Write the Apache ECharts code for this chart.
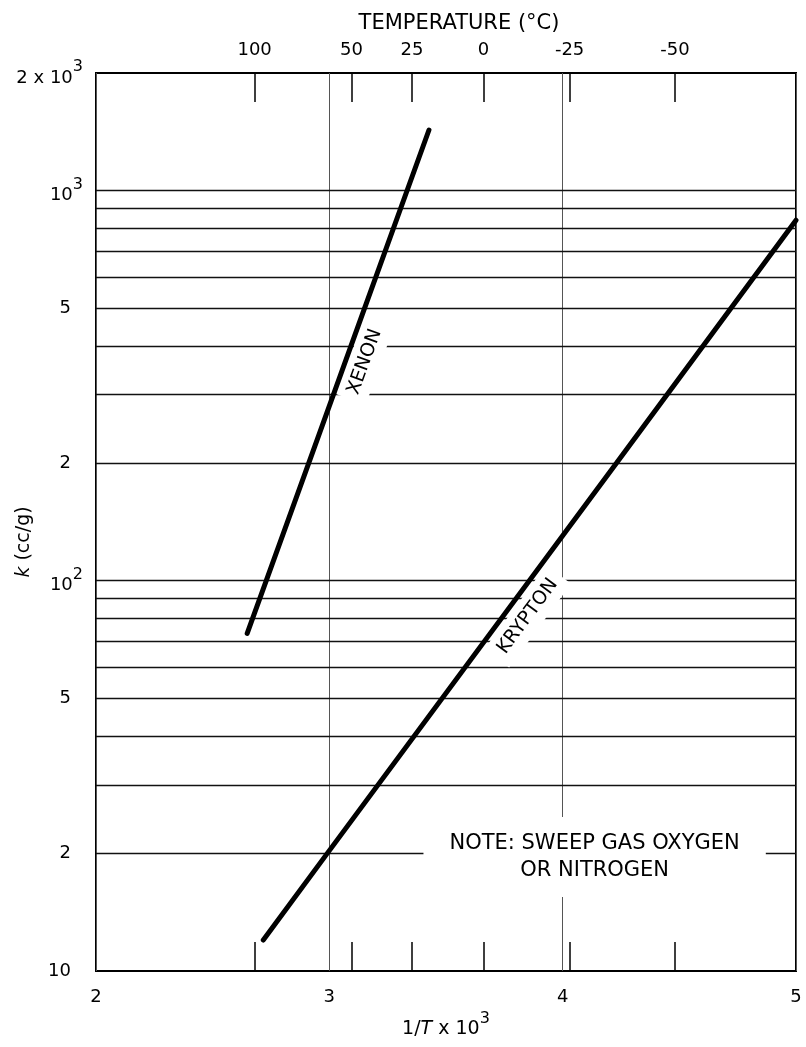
<!DOCTYPE html>
<html>
<head>
<meta charset="utf-8">
<script src="https://cdn.jsdelivr.net/npm/echarts@6/dist/echarts.min.js"></script>
<style>
  html, body { margin: 0; padding: 0; background: #fff; }
  #chart { width: 806px; height: 1047px; }
</style>
</head>
<body>
<div id="chart"></div>
<script>
// Adsorption coefficient k (cc/g) of xenon and krypton against 1/T x 10^3
const xenonInvT = [2.648, 2.914, 3.155, 3.427];
const xenonK = [73.3, 202, 507, 1429];
const kryptonInvT = [2.717, 2.988, 4.230, 5.0];
const kryptonK = [12.0, 19.9, 200, 839];

// Axis ticks and labels
const invTTicks = [2, 3, 4, 5];
const tempC = [100, 50, 25, 0, -25, -50];
const tempLabels = ['100', '50', '25', '0', '-25', '-50'];
const kGridValues = [20, 30, 40, 50, 60, 70, 80, 90, 100, 200, 300, 400, 500, 600, 700, 800, 900, 1000];
const kLabelValues = [10, 20, 50, 100, 200, 500, 1000, 2000];
const kLabelTexts = ['{n|10}', '{n|2}', '{n|5}', '{b|10}{s|2}', '{n|2}', '{n|5}', '{b|10}{s|3}', '{b|2 x 10}{s|3}'];

// Annotation anchors, in data units
const xenonNoteAt = [3.152, 364];
const kryptonNoteAt = [3.850, 81];
const sweepNoteAt = [4.137, 19.6];
const sweepNoteText = 'NOTE: SWEEP GAS OXYGEN\nOR NITROGEN';

const FONT = '"DejaVu Sans", "Liberation Sans", sans-serif';
const tempPos = tempC.map(t => 1000 / (t + 273.15));

function nearestLabel(values, texts, v, useLog) {
  let best = 0, bd = Infinity;
  values.forEach((x, i) => {
    const d = useLog ? Math.abs(Math.log10(x) - Math.log10(v)) : Math.abs(x - v);
    if (d < bd) { bd = d; best = i; }
  });
  return texts[best];
}

const chart = echarts.init(document.getElementById('chart'), null, { renderer: 'canvas' });

const pairs = (xs, ys) => xs.map((x, i) => [x, ys[i]]);

chart.setOption({
  animation: false,
  backgroundColor: '#fff',
  textStyle: { fontFamily: FONT, color: '#000' },
  grid: {
    left: 96, right: 10, top: 73, bottom: 76,
    containLabel: false, outerBoundsMode: 'none',
    show: true, borderColor: '#000', borderWidth: 2, backgroundColor: 'transparent'
  },
  xAxis: [
    {
      type: 'value', position: 'bottom', min: 2, max: 5, interval: 1,
      name: '{n|1/}{i|T}{n| x 10}{s|3}', nameLocation: 'middle', nameGap: 40, nameMoveOverlap: false,
      nameTextStyle: {
        rich: {
          n: { fontSize: 19, fontFamily: FONT, color: '#000', lineHeight: 28, verticalAlign: 'bottom' },
          i: { fontSize: 19, fontFamily: FONT, fontStyle: 'italic', color: '#000', lineHeight: 28, verticalAlign: 'bottom' },
          s: { fontSize: 16, fontFamily: FONT, color: '#000', lineHeight: 14, verticalAlign: 'top' }
        }
      },
      axisLine: { show: false },
      axisTick: { show: false },
      axisLabel: {
        margin: 17, fontSize: 18, color: '#000', fontFamily: FONT,
        formatter: v => nearestLabel(invTTicks, invTTicks.map(String), v, false)
      },
      splitLine: { show: true, lineStyle: { color: '#555', width: 1 } }
    },
    {
      type: 'value', position: 'top', min: 2, max: 5,
      name: 'TEMPERATURE (°C)', nameLocation: 'middle', nameGap: 39, nameMoveOverlap: false,
      nameTextStyle: { fontSize: 21, color: '#000', fontFamily: FONT, padding: [0, 0, 0, 26] },
      axisLine: { show: false },
      axisTick: { show: true, inside: true, length: 29, customValues: tempPos, lineStyle: { color: '#000', width: 1.5 } },
      axisLabel: {
        customValues: tempPos, margin: 14, fontSize: 18, color: '#000', fontFamily: FONT,
        formatter: v => nearestLabel(tempPos, tempLabels, v, false)
      },
      splitLine: { show: false }
    },
    {
      type: 'value', position: 'bottom', offset: 0, min: 2, max: 5,
      axisLine: { show: false },
      axisTick: { show: true, inside: true, length: 29, customValues: tempPos, lineStyle: { color: '#000', width: 1.5 } },
      axisLabel: { show: false },
      splitLine: { show: false }
    }
  ],
  yAxis: {
    type: 'log', logBase: 10, min: 10, max: 2000,
    name: '{i|k}{n| (cc/g)}', nameLocation: 'middle', nameGap: 62, nameRotate: 90, nameMoveOverlap: false,
    nameTextStyle: {
      padding: [0, 40, 0, 0],
      rich: {
        i: { fontSize: 19, fontFamily: FONT, fontStyle: 'italic', color: '#000' },
        n: { fontSize: 19, fontFamily: FONT, color: '#000' }
      }
    },
    axisLine: { show: false },
    axisTick: { show: false },
    splitLine: { show: false },
    minorSplitLine: { show: false },
    axisLabel: {
      customValues: kLabelValues, margin: 13,
      formatter: v => nearestLabel(kLabelValues, kLabelTexts, v, true),
      rich: {
        n: { fontSize: 18, fontFamily: FONT, color: '#000', lineHeight: 28, padding: [0, 12, 0, 0] },
        b: { fontSize: 18, fontFamily: FONT, color: '#000', lineHeight: 28, verticalAlign: 'bottom' },
        s: { fontSize: 16, fontFamily: FONT, color: '#000', lineHeight: 14, verticalAlign: 'top' }
      }
    }
  },
  series: [
    {
      name: 'grid', type: 'line', data: [], z: 1, silent: true,
      markLine: {
        silent: true, symbol: 'none', animation: false,
        label: { show: false },
        lineStyle: { color: '#111', width: 1.3, type: 'solid' },
        data: kGridValues.map(v => ({ yAxis: v }))
      }
    },
    {
      name: 'XENON', type: 'line', z: 10, silent: true, showSymbol: false,
      data: pairs(xenonInvT, xenonK),
      lineStyle: { color: '#000', width: 5, cap: 'round' }
    },
    {
      name: 'KRYPTON', type: 'line', z: 10, silent: true, showSymbol: false,
      data: pairs(kryptonInvT, kryptonK),
      lineStyle: { color: '#000', width: 5, cap: 'round' }
    }
  ]
});

// Place the curve names and the note in data space, parallel to each curve
const toPx = p => chart.convertToPixel({ xAxisIndex: 0, yAxisIndex: 0 }, p);
function slopeAngle(xs, ys) {
  const a = toPx([xs[0], ys[0]]);
  const b = toPx([xs[xs.length - 1], ys[ys.length - 1]]);
  return Math.atan2(a[1] - b[1], b[0] - a[0]);
}
const xp = toPx(xenonNoteAt);
const kp = toPx(kryptonNoteAt);
const np = toPx(sweepNoteAt);

chart.setOption({
  graphic: {
    elements: [
      {
        type: 'text', x: xp[0], y: xp[1], rotation: slopeAngle(xenonInvT, xenonK), z: 5, silent: true,
        style: { text: 'XENON', font: '19px ' + FONT, fill: '#000', align: 'center', verticalAlign: 'middle',
                 backgroundColor: '#fff', padding: [6, 6] }
      },
      {
        type: 'text', x: kp[0], y: kp[1], rotation: slopeAngle(kryptonInvT, kryptonK), z: 5, silent: true,
        style: { text: 'KRYPTON', font: '19px ' + FONT, fill: '#000', align: 'center', verticalAlign: 'middle',
                 backgroundColor: '#fff', padding: [6, 8] }
      },
      {
        type: 'text', x: np[0], y: np[1], z: 5, silent: true,
        style: { text: sweepNoteText, font: '21px ' + FONT, fill: '#000', align: 'center', verticalAlign: 'middle',
                 lineHeight: 27, backgroundColor: '#fff', padding: [13, 26] }
      }
    ]
  }
});
</script>
</body>
</html>
